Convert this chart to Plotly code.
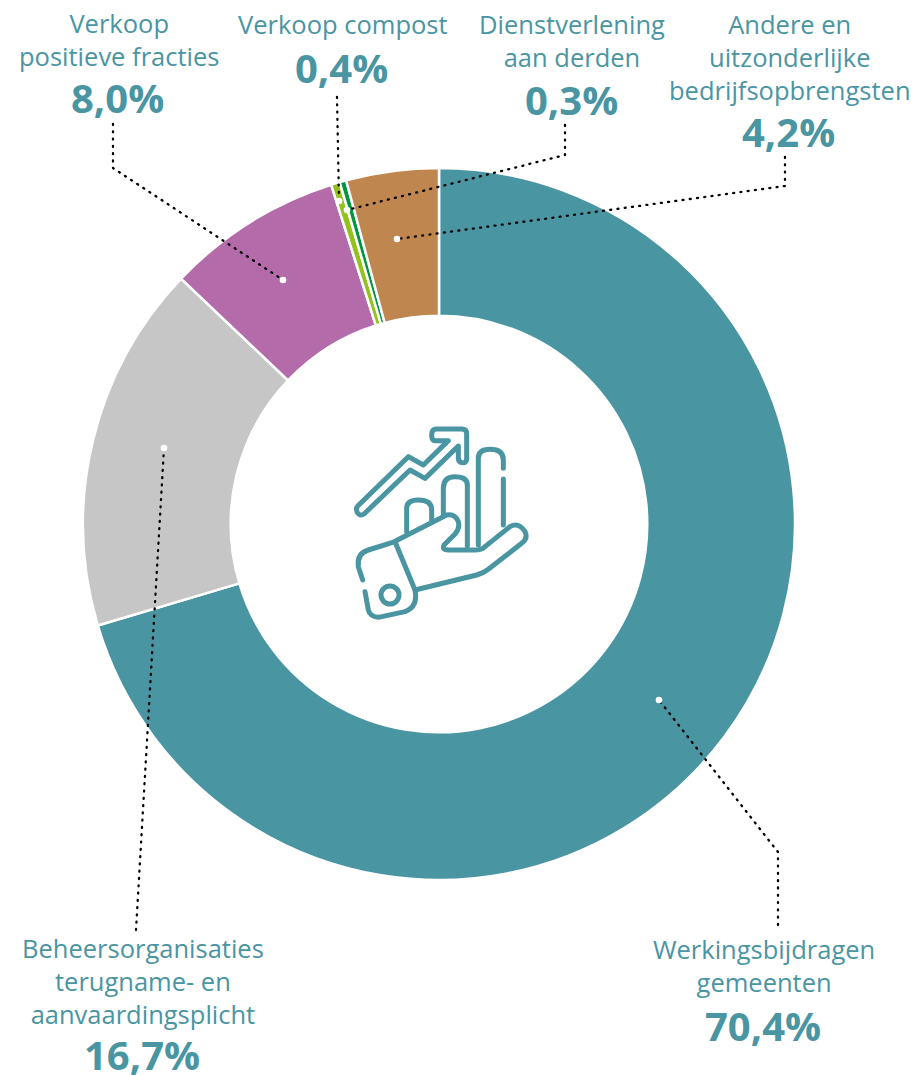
import re
import plotly.graph_objects as go

W, H = 919, 1075
TEAL = "#4a95a2"

categories = ["Werkingsbijdragen gemeenten", "Beheersorganisaties terugname- en aanvaardingsplicht",
              "Verkoop positieve fracties", "Verkoop compost", "Dienstverlening aan derden",
              "Andere en uitzonderlijke bedrijfsopbrengsten"]
values = [70.4, 16.7, 8.0, 0.4, 0.3, 4.2]
colors = [TEAL, "#c6c6c6", "#b46ba9", "#95c11f", "#009640", "#bf874f"]

label_blocks = [
    ("Verkoop<br>positieve fracties", 119, 39),
    ("Verkoop compost", 343, 24),
    ("Dienstverlening<br>aan derden", 572, 41),
    ("Andere en<br>uitzonderlijke<br>bedrijfsopbrengsten", 790, 57),
    ("Beheersorganisaties<br>terugname- en<br>aanvaardingsplicht", 143, 981),
    ("Werkingsbijdragen<br>gemeenten", 764, 965),
]
pct_labels = [("8,0%", 117, 97), ("0,4%", 341, 68), ("0,3%", 571, 100), ("4,2%", 788, 131),
              ("16,7%", 142, 1054), ("70,4%", 763, 1025)]
leaders = [
    [(113, 124), (113, 168), (283, 280)],
    [(337, 97), (339, 201)],
    [(565, 125), (565, 155), (347, 210)],
    [(785, 157), (785, 186), (397, 239)],
    [(136, 930), (164, 448)],
    [(778, 925), (778, 852), (659, 700)],
]
icon_paths = [
    "M72 312 Q60 320 52 308 Q46 296 54 287 L205 140 L250 165 L325 92 L285 92 Q275 92 275 75 Q275 57 290 57 L365 57 Q380 57 380 72 L380 148 Q378 160 368 158 Q355 158 355 145 L355 108 L255 205 L210 180 Z",
    "M415 405 L415 145 Q415 118 450 118 Q490 118 490 150 L490 175",
    "M490 207 L490 345",
    "M382 408 L382 225 Q382 200 345 200 Q310 200 310 235 L310 318",
    "M200 365 L200 295 Q200 270 235 270 Q275 270 275 300 L275 330",
    "M168 392 L320 315 Q345 310 355 335 Q360 355 345 372 L312 405 Q305 420 325 420 L405 420 Q425 420 435 410 L510 350 Q535 335 555 365 Q565 385 545 400 L445 478 Q430 490 410 495 L225 540",
    "M68 510 L55 470 Q50 430 85 420 L165 395 L225 540 Q235 590 195 605 L115 622 Q90 620 85 600 L75 545",
]
icon_ring = (150, 555, 27)


def px(x):
    return x / W


def py(y):
    return 1 - y / H


def icon_path(d):
    nums = iter(range(10 ** 6))

    def conv(m):
        v = float(m.group())
        if next(nums) % 2 == 0:
            return f"{px(340 + v / 3):.5f}"
        return f"{py(410 + v / 3):.5f}"

    return re.sub(r"\d+(?:\.\d+)?", conv, d)


fig = go.Figure(go.Pie(
    labels=categories, values=values, sort=False, direction="clockwise", rotation=0,
    hole=0.585, textinfo="none", showlegend=False,
    marker=dict(colors=colors, line=dict(color="white", width=2.5)),
    domain=dict(x=[px(83), px(795)], y=[py(880), py(168)]),
))

shapes = []
for pts in leaders:
    d = "M" + " L".join(f"{px(x):.5f} {py(y):.5f}" for x, y in pts)
    shapes.append(dict(type="path", path=d, xref="paper", yref="paper", layer="above",
                       line=dict(color="black", width=2.3, dash="1px,6.3px"), name="leader"))
    x, y = pts[-1]
    r = 3.3
    shapes.append(dict(type="circle", xref="paper", yref="paper", layer="above",
                       x0=px(x - r), x1=px(x + r), y0=py(y + r), y1=py(y - r),
                       fillcolor="white", line=dict(width=0)))
for d in icon_paths:
    shapes.append(dict(type="path", path=icon_path(d), xref="paper", yref="paper", layer="above",
                       line=dict(color=TEAL, width=5), name="icon"))
cx, cy, r = icon_ring
shapes.append(dict(type="circle", xref="paper", yref="paper", layer="above",
                   x0=px(340 + (cx - r) / 3), x1=px(340 + (cx + r) / 3),
                   y0=py(410 + (cy + r) / 3), y1=py(410 + (cy - r) / 3),
                   line=dict(color=TEAL, width=5)))

annotations = []
for text, x, y in label_blocks:
    annotations.append(dict(text=text, x=px(x), y=py(y), xref="paper", yref="paper", showarrow=False,
                            xanchor="center", yanchor="middle", align="center",
                            font=dict(family="Open Sans", size=25.5, color=TEAL)))
for text, x, y in pct_labels:
    annotations.append(dict(text=text, x=px(x), y=py(y), xref="paper", yref="paper", showarrow=False,
                            xanchor="center", yanchor="middle",
                            font=dict(family="Open Sans", size=40, color=TEAL, weight="bold")))

fig.update_layout(width=W, height=H, margin=dict(l=0, r=0, t=0, b=0), autosize=False,
                  paper_bgcolor="white", plot_bgcolor="white", shapes=shapes, annotations=annotations)

post = """
document.body.style.margin='0';
document.querySelectorAll('.shapelayer path').forEach(function(p){p.style.strokeLinecap='round';p.style.strokeLinejoin='round';});
"""
fig.write_html("out.html", config=dict(displayModeBar=False), post_script=post)
